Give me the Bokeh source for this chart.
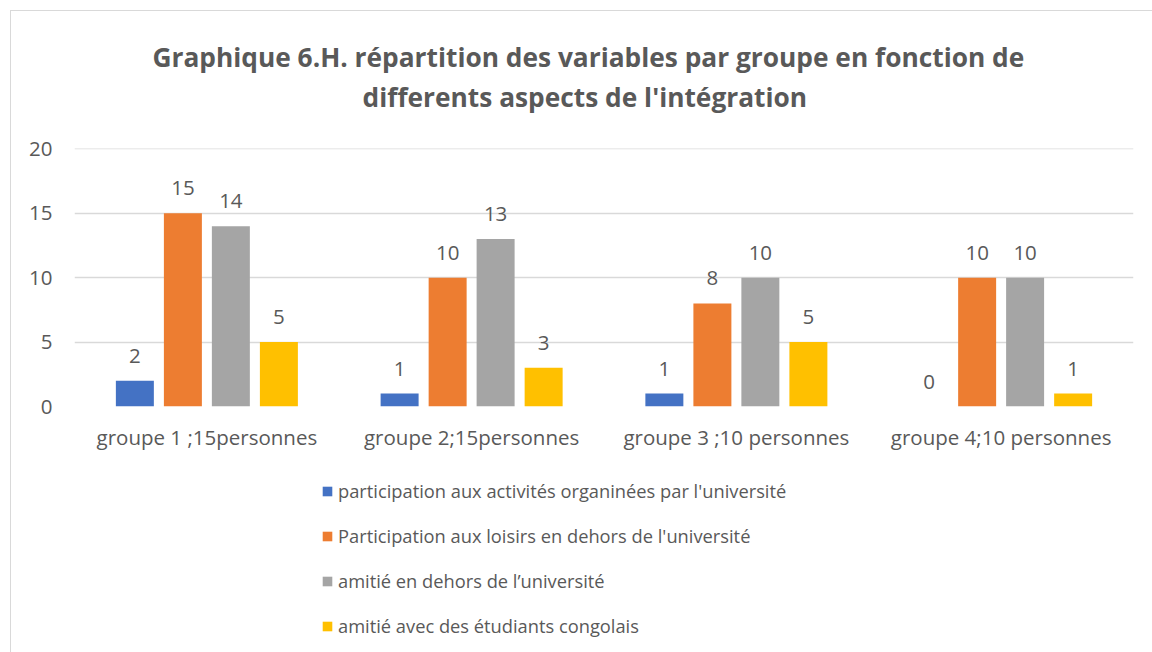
from bokeh.plotting import figure
from bokeh.layouts import column
from bokeh.models import (FactorRange, Range1d, FixedTicker, Legend, LegendItem,
                          Title, ColumnDataSource)
from bokeh.transform import dodge
from bokeh.core.properties import value
from bokeh.embed import file_html
from bokeh.resources import INLINE

groups = ["groupe 1 ;15personnes", "groupe 2;15personnes",
          "groupe 3 ;10 personnes", "groupe 4;10 personnes"]
series_names = ["participation aux activités organinées par l'université",
                "Participation aux loisirs en dehors de l'université",
                "amitié en dehors de l\u2019université",
                "amitié avec des étudiants congolais"]
activites = [2, 1, 1, 0]
loisirs = [15, 10, 8, 10]
amitie_dehors = [14, 13, 10, 10]
amitie_congolais = [5, 3, 5, 1]
y_ticks = [0, 5, 10, 15, 20]
title_line1 = "Graphique 6.H. répartition des variables par groupe en fonction de"
title_line2 = "differents aspects de l'intégration"

colors = ["#4472C4", "#ED7D31", "#A5A5A5", "#FFC000"]
series = [activites, loisirs, amitie_dehors, amitie_congolais]
offsets = [-0.272, -0.0906, 0.0906, 0.272]
FONT = "Open Sans"
FS = "20.5px"
LFS = "18.3px"
TXT = "#595959"

p = figure(width=1141, height=459, output_backend="svg", toolbar_location=None,
           x_range=FactorRange(*groups), y_range=Range1d(0, 20.03),
           min_border_left=63, min_border_right=19, min_border_top=137,
           min_border_bottom=64)

data = {"g": groups}
for i, s in enumerate(series):
    data[f"s{i}"] = s
    data[f"l{i}"] = [str(v) for v in s]
src = ColumnDataSource(data)

for i in range(4):
    p.vbar(x=dodge("g", offsets[i], range=p.x_range), top=f"s{i}", width=0.1435,
           source=src, fill_color=colors[i], line_color=None)
    p.text(x=dodge("g", offsets[i], range=p.x_range), y=f"s{i}", text=f"l{i}",
           source=src, text_align="center", text_baseline="alphabetic", y_offset=-25,
           text_font=value(FONT), text_font_size=FS, text_color=TXT)

p.outline_line_color = None
p.xgrid.grid_line_color = None
p.ygrid.grid_line_color = "#D9D9D9"
p.ygrid.grid_line_width = 1.3
p.yaxis.ticker = FixedTicker(ticks=y_ticks)
for ax in (p.xaxis[0], p.yaxis[0]):
    ax.axis_line_color = None
    ax.major_tick_line_color = None
    ax.minor_tick_line_color = None
    ax.major_tick_out = 0
    ax.major_tick_in = 0
    ax.major_label_text_font = FONT
    ax.major_label_text_font_size = FS
    ax.major_label_text_color = TXT
p.yaxis.major_label_standoff = 22
p.xaxis.major_label_standoff = 16

# titles: spacer (innermost), line 2, line 1 (outermost)
p.add_layout(Title(text=" ", text_font_size="1px", standoff=31), "above")
p.add_layout(Title(text=title_line2, align="left", offset=288, standoff=0,
                   text_font=FONT, text_font_size="26.3px", text_font_style="bold",
                   text_color=TXT), "above")
p.add_layout(Title(text=title_line1, align="left", offset=78, standoff=4,
                   text_font=FONT, text_font_size="26.3px", text_font_style="bold",
                   text_color=TXT), "above")

# legend panel
leg = figure(width=1141, height=182, output_backend="svg", toolbar_location=None,
             x_range=Range1d(0, 1), y_range=Range1d(0, 1), min_border=0,
             min_border_left=63, min_border_right=19)
leg.axis.visible = False
leg.grid.visible = False
leg.outline_line_color = None
items = []
for i in range(4):
    r = leg.vbar(x=[0.5], top=[0], bottom=[0], width=0.01, fill_color=colors[i],
                 line_color=None)
    items.append(LegendItem(label=series_names[i], renderers=[r]))
legend = Legend(items=items, location=(247, 14), orientation="vertical",
                glyph_width=12, glyph_height=12, label_height=20, spacing=20,
                label_standoff=5, padding=0, margin=0, border_line_color=None,
                background_fill_alpha=0, label_text_font=FONT,
                label_text_font_size=LFS, label_text_color=TXT)
leg.add_layout(legend, "center")

layout = column(p, leg, spacing=0,
                styles={"margin-left": "10px", "margin-top": "10px",
                        "border-left": "1px solid #D9D9D9",
                        "border-top": "1px solid #D9D9D9"})

open("out.html", "w").write(file_html(layout, INLINE))
